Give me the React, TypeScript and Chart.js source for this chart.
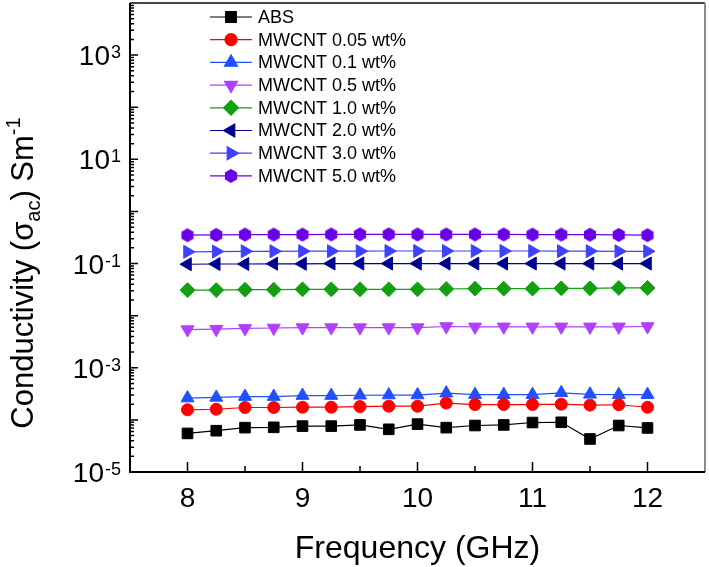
import { useEffect, useRef } from 'react';
import { Chart, registerables } from 'chart.js';
import { drawPoint } from 'chart.js/helpers';

Chart.register(...registerables);

// frequency points (GHz)
const frequencies = [8, 8.25, 8.5, 8.75, 9, 9.25, 9.5, 9.75, 10, 10.25, 10.5, 10.75, 11, 11.25, 11.5, 11.75, 12];

const seriesNames = [
   'ABS',
   'MWCNT 0.05 wt%',
   'MWCNT 0.1 wt%',
   'MWCNT 0.5 wt%',
   'MWCNT 1.0 wt%',
   'MWCNT 2.0 wt%',
   'MWCNT 3.0 wt%',
   'MWCNT 5.0 wt%',
];

// conductivity (S/m)
const absValues = [5.5e-5, 6.2e-5, 7.1e-5, 7.2e-5, 7.6e-5, 7.6e-5, 8.0e-5, 6.6e-5, 8.3e-5, 7.1e-5, 7.8e-5, 8.0e-5, 8.9e-5, 9.0e-5, 4.3e-5, 7.8e-5, 7.0e-5];
const mw005Values = [1.56e-4, 1.6e-4, 1.73e-4, 1.73e-4, 1.75e-4, 1.75e-4, 1.8e-4, 1.83e-4, 1.83e-4, 2.1e-4, 1.97e-4, 1.97e-4, 1.97e-4, 2.0e-4, 1.92e-4, 1.95e-4, 1.75e-4];
const mw01Values = [2.62e-4, 2.7e-4, 2.8e-4, 2.8e-4, 2.93e-4, 2.93e-4, 2.97e-4, 3.0e-4, 3.0e-4, 3.26e-4, 3.05e-4, 3.05e-4, 3.05e-4, 3.3e-4, 3.1e-4, 3.05e-4, 3.05e-4];
const mw05Values = [5.4e-3, 5.5e-3, 5.7e-3, 5.8e-3, 5.9e-3, 5.9e-3, 5.9e-3, 5.9e-3, 5.9e-3, 6.2e-3, 6.1e-3, 6.1e-3, 6.1e-3, 6.1e-3, 6.1e-3, 6.1e-3, 6.2e-3];
const mw10Values = [0.031, 0.031, 0.0315, 0.0315, 0.032, 0.032, 0.032, 0.032, 0.032, 0.0325, 0.033, 0.033, 0.033, 0.0335, 0.0335, 0.034, 0.034];
const mw20Values = [0.097, 0.098, 0.098, 0.099, 0.099, 0.1, 0.1, 0.1, 0.1, 0.1, 0.1, 0.1, 0.1, 0.1, 0.1, 0.1, 0.1];
const mw30Values = [0.168, 0.17, 0.172, 0.172, 0.173, 0.173, 0.173, 0.174, 0.174, 0.174, 0.174, 0.174, 0.174, 0.173, 0.173, 0.172, 0.172];
const mw50Values = [0.35, 0.355, 0.36, 0.36, 0.36, 0.362, 0.364, 0.364, 0.362, 0.362, 0.362, 0.362, 0.36, 0.36, 0.358, 0.355, 0.35];

// axis ticks
const xTicks = [8, 9, 10, 11, 12];
const xMinorTicks = [8.5, 9.5, 10.5, 11.5];
const yLabelExponents = [-5, -3, -1, 1, 3];
const yDecadeExponents = [-5, -4, -3, -2, -1, 0, 1, 2, 3];
const yMinorFactors = [2, 3, 4, 5, 6, 7, 8, 9];

const FONT = '"Liberation Sans", Arial, sans-serif';

function makeHexagon(color: string, r: number) {
   const c = document.createElement('canvas');
   const s = Math.ceil(r * 2 + 2);
   c.width = s;
   c.height = s;
   const g = c.getContext('2d')!;
   g.beginPath();
   for (let i = 0; i < 6; i++) {
      const a = -Math.PI / 2 + (i * Math.PI) / 3;
      const px = s / 2 + r * Math.cos(a);
      const py = s / 2 + r * Math.sin(a);
      if (i === 0) g.moveTo(px, py);
      else g.lineTo(px, py);
   }
   g.closePath();
   g.fillStyle = color;
   g.fill();
   return c;
}

const axesPlugin = {
   id: 'customAxes',
   afterDraw(chart: any) {
      const { ctx, chartArea } = chart;
      const xs = chart.scales.x;
      const ys = chart.scales.y;
      const { left, right, top, bottom } = chartArea;
      ctx.save();

      // frame
      ctx.lineWidth = 2;
      ctx.strokeStyle = '#45454f';
      ctx.beginPath();
      ctx.moveTo(left, top);
      ctx.lineTo(right, top);
      ctx.stroke();
      ctx.strokeStyle = '#8c8c8c';
      ctx.beginPath();
      ctx.moveTo(right, top);
      ctx.lineTo(right, bottom);
      ctx.stroke();
      ctx.strokeStyle = '#000';
      ctx.beginPath();
      ctx.moveTo(left, top);
      ctx.lineTo(left, bottom);
      ctx.lineTo(right, bottom);
      ctx.stroke();

      // y ticks (inward)
      ctx.lineWidth = 1.5;
      ctx.beginPath();
      yDecadeExponents.forEach((e) => {
         const y = ys.getPixelForValue(Math.pow(10, e));
         ctx.moveTo(left, y);
         ctx.lineTo(left + 8, y);
         yMinorFactors.forEach((f) => {
            const ym = ys.getPixelForValue(f * Math.pow(10, e));
            ctx.moveTo(left, ym);
            ctx.lineTo(left + 4, ym);
         });
      });
      // x ticks (inward)
      xTicks.forEach((t) => {
         const x = xs.getPixelForValue(t);
         ctx.moveTo(x, bottom);
         ctx.lineTo(x, bottom - 10);
      });
      xMinorTicks.forEach((t) => {
         const x = xs.getPixelForValue(t);
         ctx.moveTo(x, bottom);
         ctx.lineTo(x, bottom - 6);
      });
      ctx.stroke();

      ctx.fillStyle = '#000';
      // y tick labels 10^n
      yLabelExponents.forEach((e) => {
         const y = ys.getPixelForValue(Math.pow(10, e));
         const sup = String(e);
         ctx.font = `28px ${FONT}`;
         const wBase = ctx.measureText('10').width;
         ctx.font = `18px ${FONT}`;
         const wSup = ctx.measureText(sup).width;
         const xEnd = 121;
         ctx.textAlign = 'left';
         ctx.textBaseline = 'alphabetic';
         ctx.font = `28px ${FONT}`;
         ctx.fillText('10', xEnd - wSup - wBase - 1, y + 10);
         ctx.font = `18px ${FONT}`;
         ctx.fillText(sup, xEnd - wSup, y + 3);
      });

      // x tick labels
      ctx.font = `28px ${FONT}`;
      ctx.textAlign = 'center';
      xTicks.forEach((t) => {
         ctx.fillText(String(t), xs.getPixelForValue(t), bottom + 35);
      });

      // x title
      ctx.font = `32px ${FONT}`;
      ctx.fillText('Frequency (GHz)', (left + right) / 2, 558);

      // y title with sub/superscript
      const parts = [
         { t: 'Conductivity (\u03c3', size: 31, dy: 0 },
         { t: 'ac', size: 20, dy: 7 },
         { t: ') Sm', size: 31, dy: 0 },
         { t: '-1', size: 20, dy: -13 },
      ];
      let total = 0;
      parts.forEach((p) => {
         ctx.font = `${p.size}px ${FONT}`;
         total += ctx.measureText(p.t).width;
      });
      ctx.translate(33, 273);
      ctx.rotate(-Math.PI / 2);
      ctx.textAlign = 'left';
      let cx = -total / 2;
      parts.forEach((p) => {
         ctx.font = `${p.size}px ${FONT}`;
         ctx.fillText(p.t, cx, p.dy);
         cx += ctx.measureText(p.t).width;
      });
      ctx.setTransform(1, 0, 0, 1, 0, 0);
      ctx.restore();

      // legend
      ctx.save();
      chart.data.datasets.forEach((ds: any, i: number) => {
         const y = 17 + i * 22.7;
         ctx.strokeStyle = ds.borderColor;
         ctx.lineWidth = 1.2;
         ctx.beginPath();
         ctx.moveTo(210, y);
         ctx.lineTo(252, y);
         ctx.stroke();
         ctx.fillStyle = ds.pointBackgroundColor;
         ctx.strokeStyle = ds.pointBackgroundColor;
         drawPoint(ctx, {
            pointStyle: ds.pointStyle,
            rotation: ds.pointRotation || 0,
            radius: ds.pointRadius,
            borderWidth: 1,
         }, 231, y);
         ctx.fillStyle = '#000';
         ctx.font = `18px ${FONT}`;
         ctx.textAlign = 'left';
         ctx.textBaseline = 'middle';
         ctx.fillText(ds.label, 258, y + 1);
      });
      ctx.restore();
   },
};

export default function App() {
   const chartRef = useRef<HTMLCanvasElement>(null);
   const chartInstance = useRef<Chart | null>(null);

   useEffect(() => {
      if (!chartRef.current) return;
      if (chartInstance.current) chartInstance.current.destroy();
      const ctx = chartRef.current.getContext('2d');
      if (!ctx) return;

      const allValues = [absValues, mw005Values, mw01Values, mw05Values, mw10Values, mw20Values, mw30Values, mw50Values];
      const colors = ['#000000', '#ff0000', '#2050ff', '#b040ff', '#10a010', '#00008f', '#4040ff', '#6a00e8'];
      const styles: any[] = ['rect', 'circle', 'triangle', 'triangle', 'rectRot', 'triangle', 'triangle', makeHexagon('#6a00e8', 7)];
      const rotations = [0, 0, 0, 180, 0, 270, 90, 0];
      const radii = [7.5, 6, 7.5, 7.5, 7.4, 7.5, 7.5, 7];

      chartInstance.current = new Chart(ctx, {
         type: 'line',
         data: {
            datasets: seriesNames.map((name, i) => ({
               label: name,
               data: frequencies.map((f, j) => ({ x: f, y: allValues[i][j] })),
               borderColor: colors[i],
               borderWidth: 1.2,
               pointBackgroundColor: colors[i],
               pointBorderColor: colors[i],
               pointBorderWidth: 1,
               pointStyle: styles[i],
               pointRotation: rotations[i],
               pointRadius: radii[i],
               tension: 0,
               fill: false,
            })),
         },
         options: {
            animation: false,
            responsive: true,
            maintainAspectRatio: false,
            layout: { autoPadding: false, padding: { left: 130, right: 4, top: 3, bottom: 95 } },
            scales: {
               x: { type: 'linear', min: 7.5, max: 12.5, display: false },
               y: { type: 'logarithmic', min: 1e-5, max: 1e4, display: false },
            },
            plugins: {
               legend: { display: false },
               tooltip: { enabled: false },
            },
         },
         plugins: [axesPlugin],
      });

      return () => {
         if (chartInstance.current) {
            chartInstance.current.destroy();
            chartInstance.current = null;
         }
      };
   }, []);

   return (
      <div style={{ position: 'absolute', left: 0, top: 0, width: 709, height: 567, background: '#fff' }}>
         <canvas ref={chartRef} />
      </div>
   );
}
